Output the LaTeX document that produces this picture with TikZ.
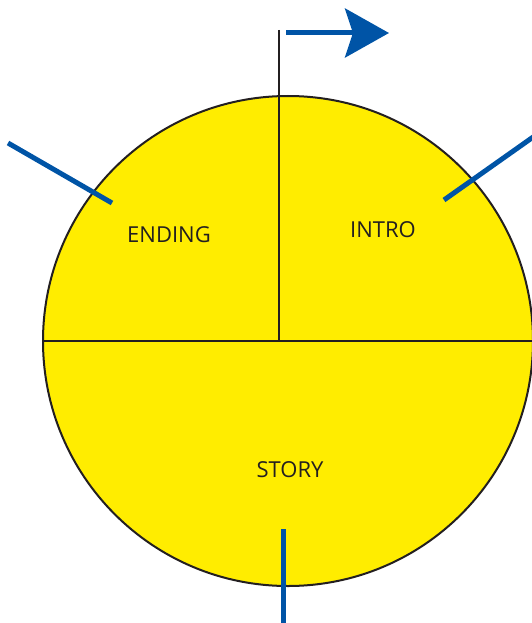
\documentclass[tikz,border=0pt]{standalone}
\usepackage{fontspec}
\setmainfont{Open Sans}
\usetikzlibrary{arrows.meta}

\definecolor{wheelyellow}{RGB}{255,237,0}
\definecolor{markblue}{RGB}{0,84,166}
\definecolor{rimblack}{RGB}{35,31,32}

\begin{document}
\begin{tikzpicture}[x=1pt, y=-1pt,
    rim/.style = {draw=rimblack, line width=2pt},
    marker/.style = {draw=markblue, line width=5pt},
    part/.style = {font=\fontsize{22}{26}\selectfont, text=rimblack}]
    \useasboundingbox (0,0) rectangle (532,623);

    % draw the wheel
    \draw[rim, fill=wheelyellow] (288,341) circle (245pt);
    \draw[rim] (43,341) -- (533,341);
    \draw[rim] (279,30) -- (279,341);

    % draw start arrow
    \draw[marker, -{Stealth[length=44pt, width=49pt, inset=8pt]}] (286,33) -- (389,33);

    % draw blue markers
    \draw[marker] (8,143) -- (112,203);
    \draw[marker] (444,200) -- (536,135);
    \draw[marker] (283,529) -- (283,623);

    % draw labels
    \node[part] (ending) at (169,235) {ENDING};
    \node[part] (intro) at (383,230) {INTRO};
    \node[part] (story) at (290,470) {STORY};
\end{tikzpicture}
\end{document}
